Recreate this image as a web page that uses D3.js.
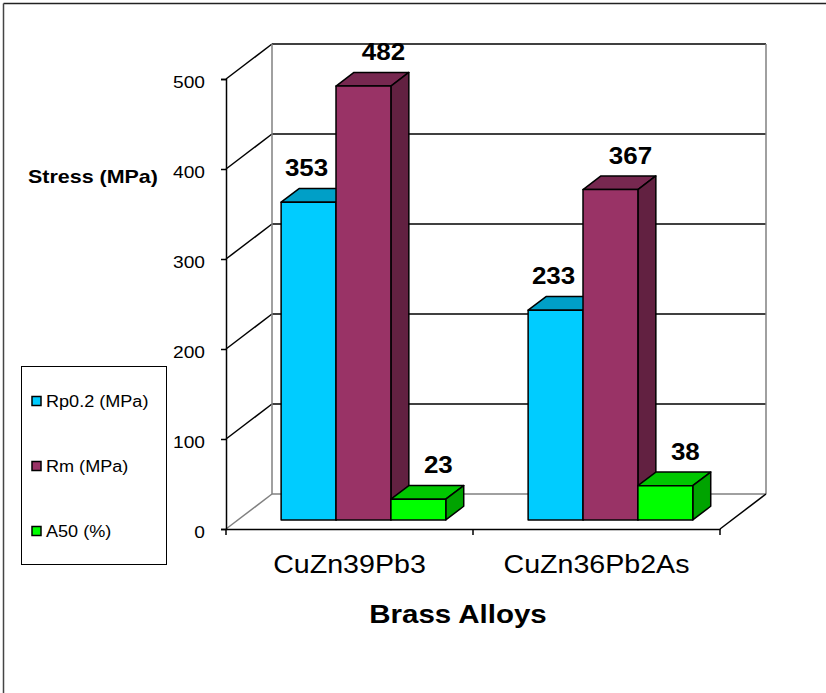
<!DOCTYPE html>
<html>
<head>
<meta charset="utf-8">
<script src="https://cdn.jsdelivr.net/npm/d3@7"></script>
<style>
body { margin: 0; background: #fff; }
text { font-family: "Liberation Sans", Arial, sans-serif; fill: #000; }
</style>
</head>
<body>
<div id="chart"></div>
<script>
var categories = ["CuZn39Pb3", "CuZn36Pb2As"];
var seriesNames = ["Rp0.2 (MPa)", "Rm (MPa)", "A50 (%)"];
var rp02 = [353, 233];
var rm = [482, 367];
var a50 = [23, 38];
var yTicks = [0, 100, 200, 300, 400, 500];
var colors = ["#00ccff", "#993366", "#00ff00"];

var w = 826, h = 693;
var series = [rp02, rm, a50];

// wall depth (front plane -> back plane) and where the bars sit inside it
var depthX = 46, depthY = -35,
    f0 = 0.26, f1 = 0.65,
    sx = 1.13;   // text in the picture is a bit wide

var svg = d3.select("#chart").append("svg")
    .attr("width", w)
    .attr("height", h);

// outer frame (only top & left are visible)
svg.append("line").attr("x1", 3.5).attr("y1", 3.5).attr("x2", w).attr("y2", 3.5)
    .attr("stroke", "#222").attr("stroke-width", 1.5);
svg.append("line").attr("x1", 3.5).attr("y1", 3.5).attr("x2", 3.5).attr("y2", h)
    .attr("stroke", "#444").attr("stroke-width", 1.5);

var x = d3.scaleBand().domain(categories).range([226, 720]),
    y = d3.scaleLinear().domain([0, 500]).range([529, 79]);

var inner = d3.scaleBand().domain(seriesNames)
    .range([2, x.bandwidth() + 2])
    .paddingInner(0).paddingOuter(0.75);

var backX0 = 226 + depthX, backX1 = 720 + depthX;

// back wall gridlines + left wall diagonals
var grid = svg.append("g");
yTicks.forEach(function (t) {
    var yy = y(t);
    grid.append("line")
        .attr("x1", backX0).attr("y1", yy + depthY)
        .attr("x2", backX1).attr("y2", yy + depthY)
        .attr("stroke", t == 0 ? "#808080" : "#000")
        .attr("stroke-width", 1.5);
    grid.append("line")
        .attr("x1", 226).attr("y1", yy)
        .attr("x2", backX0).attr("y2", yy + depthY)
        .attr("stroke", t == 0 ? "#808080" : "#000")
        .attr("stroke-width", 1.5);
});
// back wall verticals
[backX0, backX1].forEach(function (bx) {
    grid.append("line")
        .attr("x1", bx).attr("y1", y(500) + depthY)
        .attr("x2", bx).attr("y2", y(0) + depthY)
        .attr("stroke", "#808080").attr("stroke-width", 1.5);
});
// floor right edge
grid.append("line")
    .attr("x1", 720).attr("y1", y(0))
    .attr("x2", backX1).attr("y2", y(0) + depthY)
    .attr("stroke", "#000").attr("stroke-width", 1.5);

// y axis
var yAxis = d3.axisLeft(y).tickValues(yTicks).tickSize(5);
var gy = svg.append("g")
    .attr("transform", "translate(226,0)")
    .call(yAxis);
gy.select(".domain").attr("stroke", "#000").attr("stroke-width", 1.5);
gy.selectAll(".tick line").attr("stroke", "#000").attr("stroke-width", 1.5);
gy.selectAll(".tick text")
    .attr("font-size", 17)
    .attr("x", 0)
    .attr("dy", "0.42em")
    .attr("transform", "translate(-21,1) scale(" + sx + ",1)");

// x axis (front floor edge)
var xAxis = d3.axisBottom(x).tickSize(0).tickFormat("");
var gx = svg.append("g")
    .attr("transform", "translate(0," + y(0) + ")")
    .call(xAxis);
gx.select(".domain").attr("stroke", "#000").attr("stroke-width", 1.5);
[226, 226 + x.step(), 720].forEach(function (tx) {
    gx.append("line").attr("x1", tx).attr("x2", tx).attr("y1", 0).attr("y2", 6)
        .attr("stroke", "#000").attr("stroke-width", 1.5);
});

function shade(c, k) {
    var r = d3.rgb(c);
    return d3.rgb(r.r * k, r.g * k, r.b * k).formatHex();
}

// bars
var bars = svg.append("g");
var dx0 = f0 * depthX, dy0 = f0 * depthY,
    ddx = (f1 - f0) * depthX, ddy = (f1 - f0) * depthY,
    bw = inner.bandwidth();

categories.forEach(function (cat, i) {
    seriesNames.forEach(function (s, j) {
        var v = series[j][i];
        var x0 = x(cat) + inner(s) + dx0,
            x1 = x0 + bw,
            yt = y(v) + dy0,
            yb = y(0) + dy0;
        var g = bars.append("g")
            .attr("stroke", "#000").attr("stroke-width", 1.5)
            .attr("stroke-linejoin", "round");
        g.append("polygon")
            .attr("points", [[x0, yt], [x1, yt], [x1 + ddx, yt + ddy], [x0 + ddx, yt + ddy]].join(" "))
            .attr("fill", shade(colors[j], 0.78));
        g.append("polygon")
            .attr("points", [[x1, yt], [x1 + ddx, yt + ddy], [x1 + ddx, yb + ddy], [x1, yb]].join(" "))
            .attr("fill", shade(colors[j], 0.64));
        g.append("rect")
            .attr("x", x0).attr("y", yt)
            .attr("width", bw).attr("height", yb - yt)
            .attr("fill", colors[j]);
    });
});

// value labels
var labelNudge = [-2, 20, 20];
categories.forEach(function (cat, i) {
    seriesNames.forEach(function (s, j) {
        var v = series[j][i];
        var cx = x(cat) + inner(s) + dx0 + bw / 2 + labelNudge[j];
        svg.append("text")
            .attr("transform", "translate(" + cx + "," + (y(v) + dy0 - 26) + ") scale(" + sx + ",1)")
            .attr("text-anchor", "middle")
            .attr("font-size", 23)
            .attr("font-weight", "bold")
            .text(v);
    });
});

// category labels
categories.forEach(function (cat) {
    svg.append("text")
        .attr("transform", "translate(" + (x(cat) + x.bandwidth() / 2) + ",573) scale(1.1,1)")
        .attr("text-anchor", "middle")
        .attr("font-size", 26)
        .text(cat);
});

// axis titles
svg.append("text")
    .attr("transform", "translate(458,623) scale(1.18,1)")
    .attr("text-anchor", "middle")
    .attr("font-size", 25)
    .attr("font-weight", "bold")
    .text("Brass Alloys");

svg.append("text")
    .attr("transform", "translate(28,183) scale(1.16,1)")
    .attr("font-size", 18.5)
    .attr("font-weight", "bold")
    .text("Stress (MPa)");

// legend
var legend = svg.append("g");
legend.append("rect")
    .attr("x", 21.5).attr("y", 366.5)
    .attr("width", 145).attr("height", 198)
    .attr("fill", "#fff").attr("stroke", "#000").attr("stroke-width", 1);
var legY = d3.scalePoint().domain(seriesNames).range([401, 531]);
seriesNames.forEach(function (s, j) {
    legend.append("rect")
        .attr("x", 32).attr("y", legY(s) - 4.5)
        .attr("width", 9).attr("height", 9)
        .attr("fill", colors[j]).attr("stroke", "#000").attr("stroke-width", 1.5);
    legend.append("text")
        .attr("transform", "translate(46," + (legY(s) + 6) + ") scale(1.13,1)")
        .attr("font-size", 16)
        .text(s);
});
</script>
</body>
</html>
